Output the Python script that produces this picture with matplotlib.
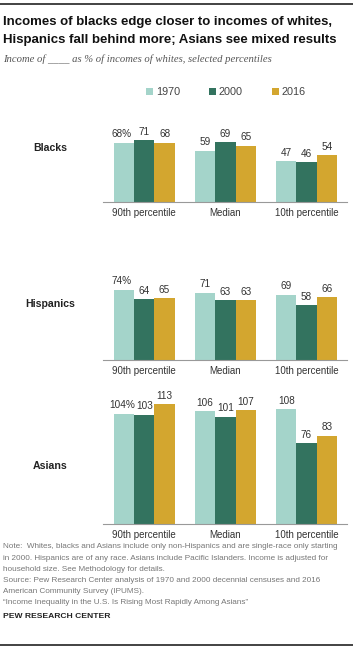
import matplotlib
matplotlib.use('Agg')
import matplotlib.pyplot as plt
from matplotlib.patches import Patch
from matplotlib.lines import Line2D
import numpy as np

plt.rcParams['font.family'] = ['Liberation Sans', 'DejaVu Sans']

# data
groups = ['Blacks', 'Hispanics', 'Asians']
percentiles = ['90th percentile', 'Median', '10th percentile']
years = ['1970', '2000', '2016']
blacks = [[68, 59, 47], [71, 69, 46], [68, 65, 54]]
hispanics = [[74, 71, 69], [64, 63, 58], [65, 63, 66]]
asians = [[104, 106, 108], [103, 101, 76], [113, 107, 83]]
colors = ['#a4d4ca', '#33735f', '#d3a62f']

W, H = 353, 652
fig = plt.figure(figsize=(W / 100, H / 100), dpi=100)

def fx(px):
    return px / W

def fy(py):
    return 1 - py / H

# top / bottom rules
fig.add_artist(Line2D([0, 1], [fy(4), fy(4)], color='#222222', lw=1.2))
fig.add_artist(Line2D([0, 1], [fy(645), fy(645)], color='#222222', lw=1.2))

fig.text(fx(3), fy(22), 'Incomes of blacks edge closer to incomes of whites,',
         fontsize=9.5, fontweight='bold', color='#111111', va='center')
fig.text(fx(3), fy(40), 'Hispanics fall behind more; Asians see mixed results',
         fontsize=9.5, fontweight='bold', color='#111111', va='center')
fig.text(fx(3), fy(59), 'Income of ____ as % of incomes of whites, selected percentiles',
         fontsize=7.7, style='italic', color='#555555', va='center',
         family=['Liberation Serif', 'DejaVu Serif'])

handles = [Patch(facecolor=c, edgecolor='none') for c in colors]
fig.legend(handles, years, loc='center', bbox_to_anchor=(fx(226), fy(92)),
           ncol=3, frameon=False, fontsize=7.8, handlelength=0.6, handleheight=0.6,
           handletextpad=0.3, columnspacing=2.7, labelcolor='#444444')

panels = [
    ('Blacks', blacks, 202, 80, 0.869, 148),
    ('Hispanics', hispanics, 360, 80, 0.947, 304),
    ('Asians', asians, 524, 120, 1.062, 466),
]

x = np.arange(len(percentiles))
bw = 0.25
for name, vals, base, top, scale, label_y in panels:
    h = top * scale
    ax = fig.add_axes([fx(103), fy(base), fx(244), h / H])
    for i, yr in enumerate(years):
        bars = ax.bar(x + (i - 1) * bw, vals[i], width=bw, color=colors[i], edgecolor='none')
        for j, b in enumerate(bars):
            v = vals[i][j]
            first = (i == 0 and j == 0)
            txt = f'{v}%' if first else f'{v}'
            ax.annotate(txt, (b.get_x() + b.get_width() / 2, b.get_height()),
                        xytext=(-1.5 if first else 0, 2.5), textcoords='offset points',
                        ha='center', va='bottom', fontsize=7.2, color='#333333')
    ax.set_xlim(-0.51, 2.5)
    ax.set_ylim(0, top)
    ax.set_xticks(x)
    ax.set_xticklabels(percentiles, fontsize=7, color='#333333')
    ax.tick_params(axis='x', length=0, pad=4)
    ax.set_yticks([])
    for s in ['top', 'right', 'left']:
        ax.spines[s].set_visible(False)
    ax.spines['bottom'].set_color('#999999')
    ax.spines['bottom'].set_linewidth(0.8)
    fig.text(fx(50), fy(label_y), name, fontsize=7.6, fontweight='bold',
             color='#222222', ha='center', va='center')

notes = [
    'Note:  Whites, blacks and Asians include only non-Hispanics and are single-race only starting',
    'in 2000. Hispanics are of any race. Asians include Pacific Islanders. Income is adjusted for',
    'household size. See Methodology for details.',
    'Source: Pew Research Center analysis of 1970 and 2000 decennial censuses and 2016',
    'American Community Survey (IPUMS).',
    '\u201cIncome Inequality in the U.S. Is Rising Most Rapidly Among Asians\u201d',
]
for k, line in enumerate(notes):
    fig.text(fx(3), fy(547 + k * 11.2), line, fontsize=5.9, color='#777777', va='center')
fig.text(fx(3), fy(617), 'PEW RESEARCH CENTER', fontsize=6.1, fontweight='bold',
         color='#222222', va='center')

fig.savefig('out.png', dpi=100)
